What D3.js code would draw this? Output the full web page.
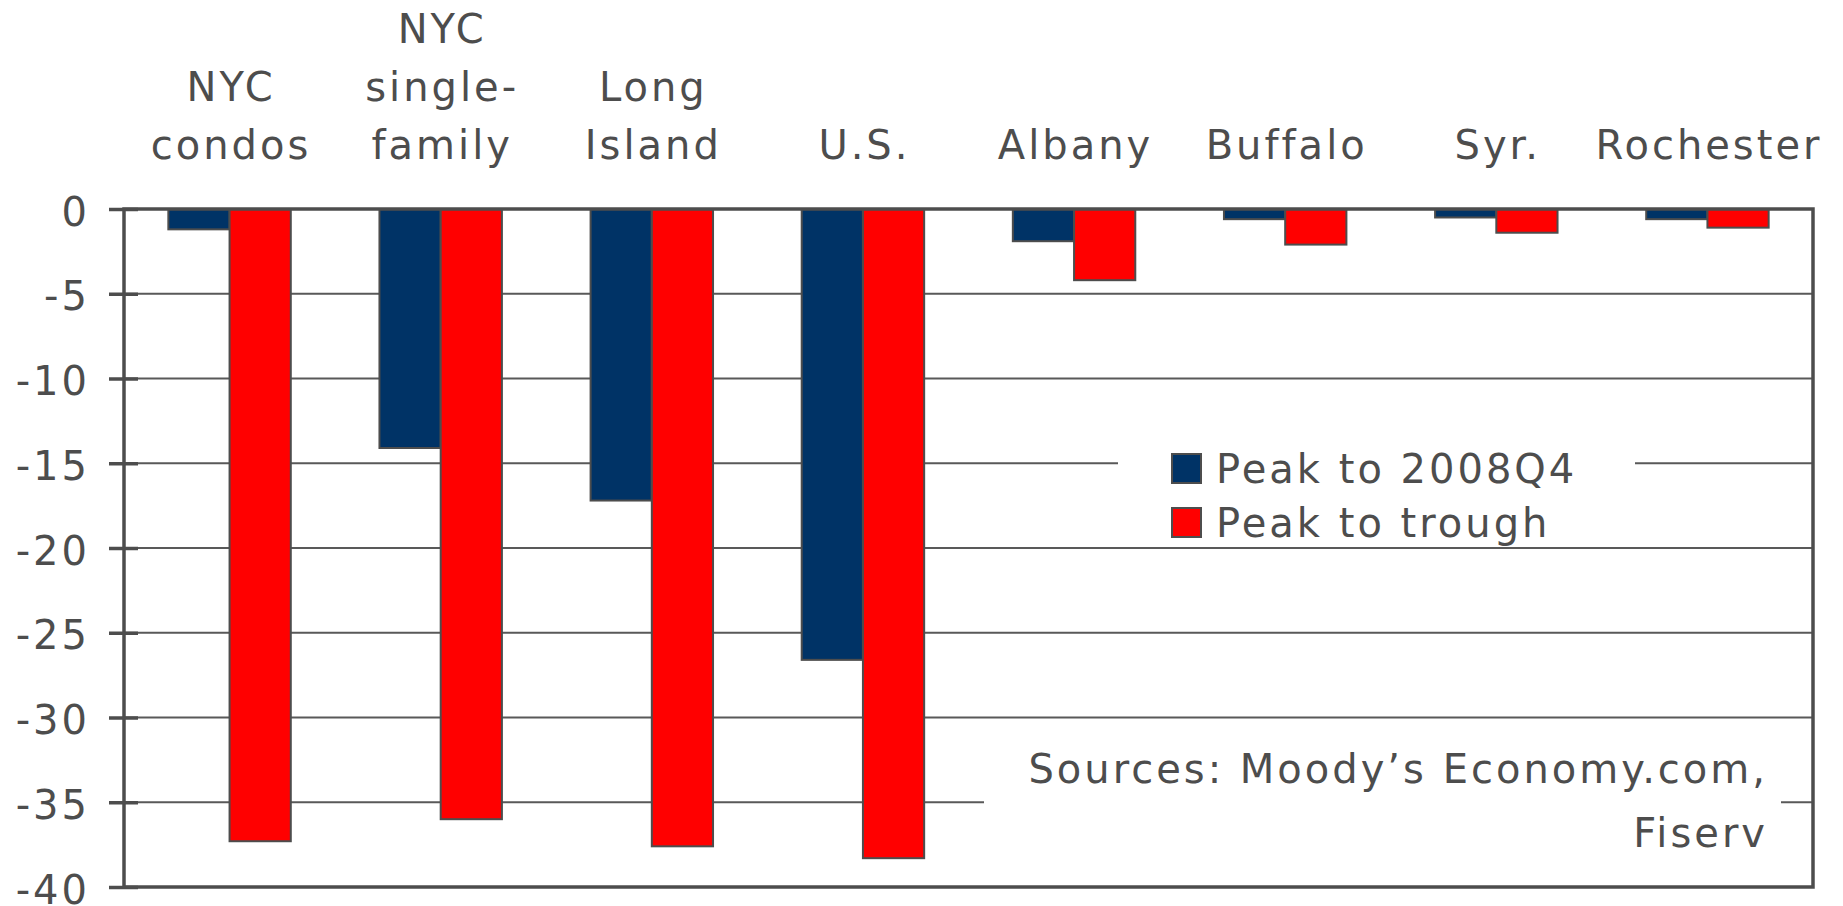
<!DOCTYPE html>
<html>
<head>
<meta charset="utf-8">
<script src="https://cdn.jsdelivr.net/npm/d3@7"></script>
<style>
    body { margin: 0; background: #fff; }
    text { font-family: "DejaVu Sans", Verdana, sans-serif; fill: #4d4d4d; letter-spacing: 3px; }
</style>
</head>
<body>
<div id="chart"></div>
<script>
// data
const categories = ["NYC condos", "NYC single-family", "Long Island", "U.S.", "Albany", "Buffalo", "Syr.", "Rochester"];
const categoryLines = [["NYC", "condos"], ["NYC", "single-", "family"], ["Long", "Island"], ["U.S."], ["Albany"], ["Buffalo"], ["Syr."], ["Rochester"]];
const seriesNames = ["Peak to 2008Q4", "Peak to trough"];
const peakTo2008Q4 = [-1.2, -14.1, -17.2, -26.6, -1.9, -0.6, -0.5, -0.6];
const peakToTrough = [-37.3, -36.0, -37.6, -38.3, -4.2, -2.1, -1.4, -1.1];
const yTicks = [0, -5, -10, -15, -20, -25, -30, -35, -40];
const sourceLines = ["Sources: Moody\u2019s Economy.com,", "Fiserv"];

const seriesColors = ["#003366", "#ff0000"];
const ink = "#4d4d4d";

// set the dimensions and margins of the graph
const margin = { top: 209, right: 30, bottom: 19, left: 124 },
    width = 1843 - margin.left - margin.right,
    height = 906 - margin.top - margin.bottom;

var svg = d3.select("#chart")
    .append("svg")
    .attr("width", width + margin.left + margin.right)
    .attr("height", height + margin.top + margin.bottom)
    .append("g")
    .attr("transform", `translate(${margin.left},${margin.top})`);

var rows = categories.map(function (c, i) {
    return { key: c, lines: categoryLines[i], values: [peakTo2008Q4[i], peakToTrough[i]] };
});

var x = d3.scaleBand()
    .domain(categories)
    .range([0, width])
    .paddingInner(0.42)
    .paddingOuter(0.21);

var xSubgroup = d3.scaleBand()
    .domain(seriesNames)
    .range([0, x.bandwidth()]);

var y = d3.scaleLinear()
    .domain([-40, 0])
    .range([height, 0]);

var color = d3.scaleOrdinal()
    .domain(seriesNames)
    .range(seriesColors);

// gridlines
svg.append("g")
    .selectAll("line")
    .data(yTicks.filter(function (d) { return d != 0 && d != -40; }))
    .enter()
    .append("line")
    .attr("x1", 0)
    .attr("x2", width)
    .attr("y1", function (d) { return y(d); })
    .attr("y2", function (d) { return y(d); })
    .attr("stroke", "#595959")
    .attr("stroke-width", 2);

// bars
svg.append("g")
    .selectAll("g")
    .data(rows)
    .enter()
    .append("g")
    .attr("transform", function (d) { return "translate(" + x(d.key) + ",0)"; })
    .selectAll("rect")
    .data(function (d) { return seriesNames.map(function (s, j) { return { key: s, value: d.values[j] }; }); })
    .enter()
    .append("rect")
    .attr("x", function (d) { return xSubgroup(d.key); })
    .attr("width", xSubgroup.bandwidth())
    .attr("y", y(0))
    .attr("height", function (d) { return y(d.value) - y(0); })
    .attr("fill", function (d) { return color(d.key); })
    .attr("stroke", ink)
    .attr("stroke-width", 2);

// legend
var legend = svg.append("g");

legend.append("rect")
    .attr("x", 994)
    .attr("y", 231)
    .attr("width", 517)
    .attr("height", 105)
    .attr("fill", "#fff");

var legendItems = legend.selectAll("g.item")
    .data(seriesNames)
    .enter()
    .append("g")
    .attr("class", "item")
    .attr("transform", function (d, i) { return "translate(1048," + (245 + i * 54) + ")"; });

legendItems.append("rect")
    .attr("width", 29)
    .attr("height", 29)
    .attr("fill", function (d) { return color(d); })
    .attr("stroke", ink)
    .attr("stroke-width", 2);

legendItems.append("text")
    .attr("x", 44)
    .attr("y", 29)
    .attr("font-size", "40px")
    .text(function (d) { return d; });

// sources note
svg.append("rect")
    .attr("x", 860)
    .attr("y", 536)
    .attr("width", 797)
    .attr("height", 115)
    .attr("fill", "#fff");

svg.append("g")
    .selectAll("text")
    .data(sourceLines)
    .enter()
    .append("text")
    .attr("text-anchor", "end")
    .attr("x", 1644)
    .attr("y", function (d, i) { return 574 + i * 64; })
    .attr("font-size", "40px")
    .text(function (d) { return d; });

// plot frame
svg.append("rect")
    .attr("width", width)
    .attr("height", height)
    .attr("fill", "none")
    .attr("stroke", ink)
    .attr("stroke-width", 3.5);

// y axis
var yAxis = svg.append("g")
    .call(d3.axisLeft(y)
        .tickValues(yTicks)
        .tickSize(15)
        .tickPadding(19)
        .tickFormat(function (d) { return String(d); }));

yAxis.select(".domain").remove();

yAxis.selectAll(".tick line")
    .attr("x1", 14)
    .attr("stroke", ink)
    .attr("stroke-width", 3.5);

yAxis.selectAll(".tick text")
    .attr("font-size", "40px")
    .attr("font-family", "DejaVu Sans, Verdana, sans-serif")
    .attr("dy", "0.4em");

// category labels above the plot
svg.append("g")
    .selectAll("text")
    .data(rows)
    .enter()
    .append("text")
    .attr("text-anchor", "middle")
    .attr("font-size", "40px")
    .each(function (d) {
        var t = d3.select(this);
        var n = d.lines.length;
        d.lines.forEach(function (line, i) {
            t.append("tspan")
                .attr("x", x(d.key) + x.bandwidth() / 2 + 1.5)
                .attr("y", -50 - (n - 1 - i) * 58)
                .text(line);
        });
    });
</script>
</body>
</html>
